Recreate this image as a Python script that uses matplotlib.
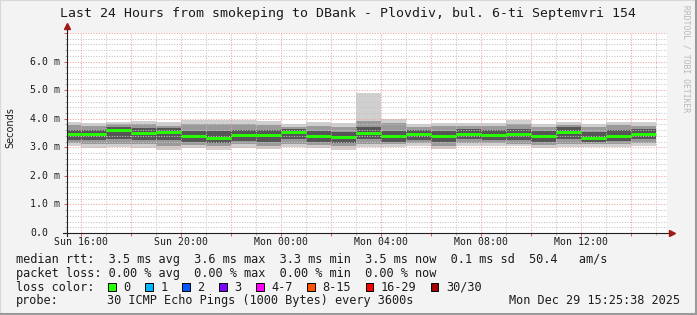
import matplotlib
matplotlib.use("Agg")
import matplotlib.pyplot as plt
import matplotlib.dates as mdates
import matplotlib.ticker as mticker
import numpy as np
import pandas as pd

# ---------------- data ----------------
bar_start = "2025-12-28 15:00"
n_bars = 24
window_end = "2025-12-29 15:25:38"

median = [3.46, 3.46, 3.62, 3.50, 3.52, 3.38, 3.34, 3.42, 3.42, 3.53, 3.40, 3.36,
          3.51, 3.38, 3.45, 3.39, 3.48, 3.44, 3.45, 3.41, 3.55, 3.34, 3.41, 3.48]
ping_min = [3.05, 2.99, 3.01, 2.99, 2.91, 2.96, 2.92, 2.99, 2.93, 3.01, 2.98, 2.91,
            3.01, 3.00, 3.05, 2.94, 3.06, 3.05, 3.03, 2.97, 3.00, 3.02, 3.02, 3.03]
ping_q10 = [3.14, 3.10, 3.12, 3.10, 3.05, 3.08, 3.04, 3.10, 3.06, 3.12, 3.08, 3.04,
            3.12, 3.10, 3.14, 3.06, 3.16, 3.14, 3.12, 3.08, 3.12, 3.12, 3.12, 3.14]
ping_q25 = [3.26, 3.24, 3.30, 3.26, 3.24, 3.18, 3.15, 3.22, 3.20, 3.28, 3.20, 3.16,
            3.28, 3.20, 3.26, 3.20, 3.28, 3.24, 3.24, 3.20, 3.30, 3.18, 3.22, 3.28]
ping_q75 = [3.62, 3.62, 3.72, 3.66, 3.66, 3.58, 3.56, 3.60, 3.60, 3.64, 3.58, 3.54,
            3.70, 3.58, 3.62, 3.58, 3.64, 3.62, 3.64, 3.58, 3.70, 3.54, 3.62, 3.64]
ping_q90 = [3.78, 3.74, 3.80, 3.80, 3.76, 3.80, 3.82, 3.82, 3.78, 3.72, 3.76, 3.72,
            3.92, 3.86, 3.70, 3.74, 3.76, 3.76, 3.80, 3.70, 3.78, 3.72, 3.78, 3.76]
ping_max = [3.90, 3.85, 3.88, 3.92, 3.88, 3.94, 3.97, 3.95, 3.91, 3.80, 3.88, 3.84,
            4.90, 3.99, 3.80, 3.85, 3.86, 3.86, 3.94, 3.80, 3.88, 3.83, 3.90, 3.87]

title = "Last 24 Hours from smokeping to DBank - Plovdiv, bul. 6-ti Septemvri 154"
y_label = "Seconds"
y_ticks = [0, 1, 2, 3, 4, 5, 6]
y_tick_labels = ["0.0", "1.0 m", "2.0 m", "3.0 m", "4.0 m", "5.0 m", "6.0 m"]

rtt_line = "median rtt:  3.5 ms avg  3.6 ms max  3.3 ms min  3.5 ms now  0.1 ms sd  50.4   am/s"
loss_line = "packet loss: 0.00 % avg  0.00 % max  0.00 % min  0.00 % now"
loss_labels = ["0", "1", "2", "3", "4-7", "8-15", "16-29", "30/30"]
loss_colors = ["#26ff00", "#00b8ff", "#0059ff", "#7e00ff", "#ff00ff", "#ff5500", "#ff0000", "#a10000"]
probe_text = "30 ICMP Echo Pings (1000 Bytes) every 3600s"
stamp_text = "Mon Dec 29 15:25:38 2025"
watermark = "RRDTOOL / TOBI OETIKER"

# ---------------- figure ----------------
W, H = 697, 315
fig = plt.figure(figsize=(W / 100, H / 100), dpi=100, facecolor="#f3f3f3")
L, R, T, B = 67, 667, 33, 233
ax = fig.add_axes([L / W, 1 - B / H, (R - L) / W, (B - T) / H])
ax.set_facecolor("white")

mono = "DejaVu Sans Mono"
txt_col = "#1c1c1c"

starts = pd.date_range(bar_start, periods=n_bars, freq="h")
x = mdates.date2num(starts.to_pydatetime())
w = 1.0 / 24
end = pd.Timestamp(window_end)
begin = end - pd.Timedelta(hours=24)
ax.set_xlim(mdates.date2num(begin.to_pydatetime()), mdates.date2num(end.to_pydatetime()))
ax.set_ylim(0, 7)

lo_arr = [np.array(ping_min), np.array(ping_q10), np.array(ping_q25)]
hi_arr = [np.array(ping_max), np.array(ping_q90), np.array(ping_q75)]
smoke_cols = ["#d0d0d0", "#9a9a9a", "#565656"]
for lo, hi, c in zip(lo_arr, hi_arr, smoke_cols):
    ax.bar(x, hi - lo, bottom=lo, width=w, align="edge", color=c, lw=0, zorder=1)

ax.hlines(median, x, x + w, colors="#26ff00", lw=2.1, zorder=4)

# grid
ax.set_axisbelow(False)
ax.xaxis.set_major_locator(mdates.HourLocator(byhour=range(0, 24, 2)))
ax.xaxis.set_minor_locator(mdates.HourLocator())
ax.yaxis.set_major_locator(mticker.MultipleLocator(1.0))
ax.yaxis.set_minor_locator(mticker.MultipleLocator(0.2))
ax.grid(which="major", color="#f0a0a0", lw=0.75, linestyle=(0, (1, 1.5)))
ax.grid(which="minor", color="#c4c4c4", lw=0.75, linestyle=(0, (1, 1.5)))
ax.tick_params(which="major", length=2.2, width=0.75, color="#e06060", direction="out")
ax.tick_params(which="minor", length=1.5, width=0.75, color="#b0b0b0", direction="out")
ax.set_xticklabels([])
ax.set_yticklabels([])
ax.tick_params(labelbottom=False, labelleft=False)
for s in ax.spines.values():
    s.set_visible(False)

# x tick labels (every 4 h)
for t in pd.date_range("2025-12-28 16:00", "2025-12-29 12:00", freq="4h"):
    ax.text(mdates.date2num(t.to_pydatetime()), -4 / 200, t.strftime("%a %H:%M"),
            transform=ax.get_xaxis_transform(), ha="center", va="top",
            family=mono, fontsize=7.1, color=txt_col)
# y tick labels (left aligned)
for v, lab in zip(y_ticks, y_tick_labels):
    ax.text((30 - L) / (R - L), v, lab, transform=ax.get_yaxis_transform(),
            ha="left", va="center", family=mono, fontsize=7.1, color=txt_col)

fig.text(10 / W, 1 - 128 / H, y_label, rotation=90, ha="center", va="center",
         family="DejaVu Sans", fontsize=7, color=txt_col)

# axes lines with arrows
axis_col = "#202020"
arrow_col = "#a01818"
ax.plot([-4 / 600, 604 / 600], [0, 0], transform=ax.transAxes, clip_on=False,
        color=axis_col, lw=0.8, zorder=5)
ax.plot([605 / 600], [0], marker=">", ms=4.5, color=arrow_col, mec=arrow_col,
        transform=ax.transAxes, clip_on=False, zorder=6)
ax.plot([0, 0], [-3 / 200, 1.03], transform=ax.transAxes, clip_on=False,
        color=axis_col, lw=0.8, zorder=5)
ax.plot([0], [1.035], marker="^", ms=4.5, color=arrow_col, mec=arrow_col,
        transform=ax.transAxes, clip_on=False, zorder=6)

# title
fig.text(348.5 / W, 1 - 14 / H, title, ha="center", va="center", family=mono,
         fontsize=9.55, color=txt_col)

# legend
fs = 8.53
def px(xp, yp):
    return xp / W, 1 - yp / H

fig.text(*px(16, 259.7), rtt_line, ha="left", va="center", family=mono, fontsize=fs, color=txt_col)
fig.text(*px(16, 273.3), loss_line, ha="left", va="center", family=mono, fontsize=fs, color=txt_col)
fig.text(*px(16, 287.3), "loss color:", ha="left", va="center", family=mono, fontsize=fs, color=txt_col)
cw = 7.05
xb = 108.0
for lab, col in zip(loss_labels, loss_colors):
    fig.patches.append(plt.Rectangle(px(xb, 291.0), 7.5 / W, 8.5 / H, transform=fig.transFigure,
                                     facecolor=col, edgecolor="black", lw=0.7))
    fig.text(*px(xb + 15, 287.3), lab, ha="left", va="center", family=mono, fontsize=fs, color=txt_col)
    xb = xb + 15 + len(lab) * cw + 15
fig.text(*px(16, 300.8), "probe:", ha="left", va="center", family=mono, fontsize=fs, color=txt_col)
fig.text(*px(107.3, 300.8), probe_text, ha="left", va="center", family=mono, fontsize=fs, color=txt_col)
fig.text(*px(680, 300.8), stamp_text, ha="right", va="center", family=mono, fontsize=fs, color=txt_col)

# watermark
fig.text(*px(686, 5), watermark, rotation=-90, ha="center", va="top", family=mono,
         fontsize=5.8, color="#b8b8b8")

# frame (3D border)
fig.add_artist(plt.Line2D([0, 0], [0, 1], transform=fig.transFigure, color="#d8d8d8", lw=1.5))
fig.add_artist(plt.Line2D([0, 1], [1, 1], transform=fig.transFigure, color="#d8d8d8", lw=1.5))
fig.add_artist(plt.Line2D([1 - 1.5 / W, 1 - 1.5 / W], [0, 1], transform=fig.transFigure, color="#9a9a9a", lw=2.2))
fig.add_artist(plt.Line2D([0, 1], [1.5 / H, 1.5 / H], transform=fig.transFigure, color="#9a9a9a", lw=2.2))

fig.savefig("out.png", dpi=100, facecolor=fig.get_facecolor())
